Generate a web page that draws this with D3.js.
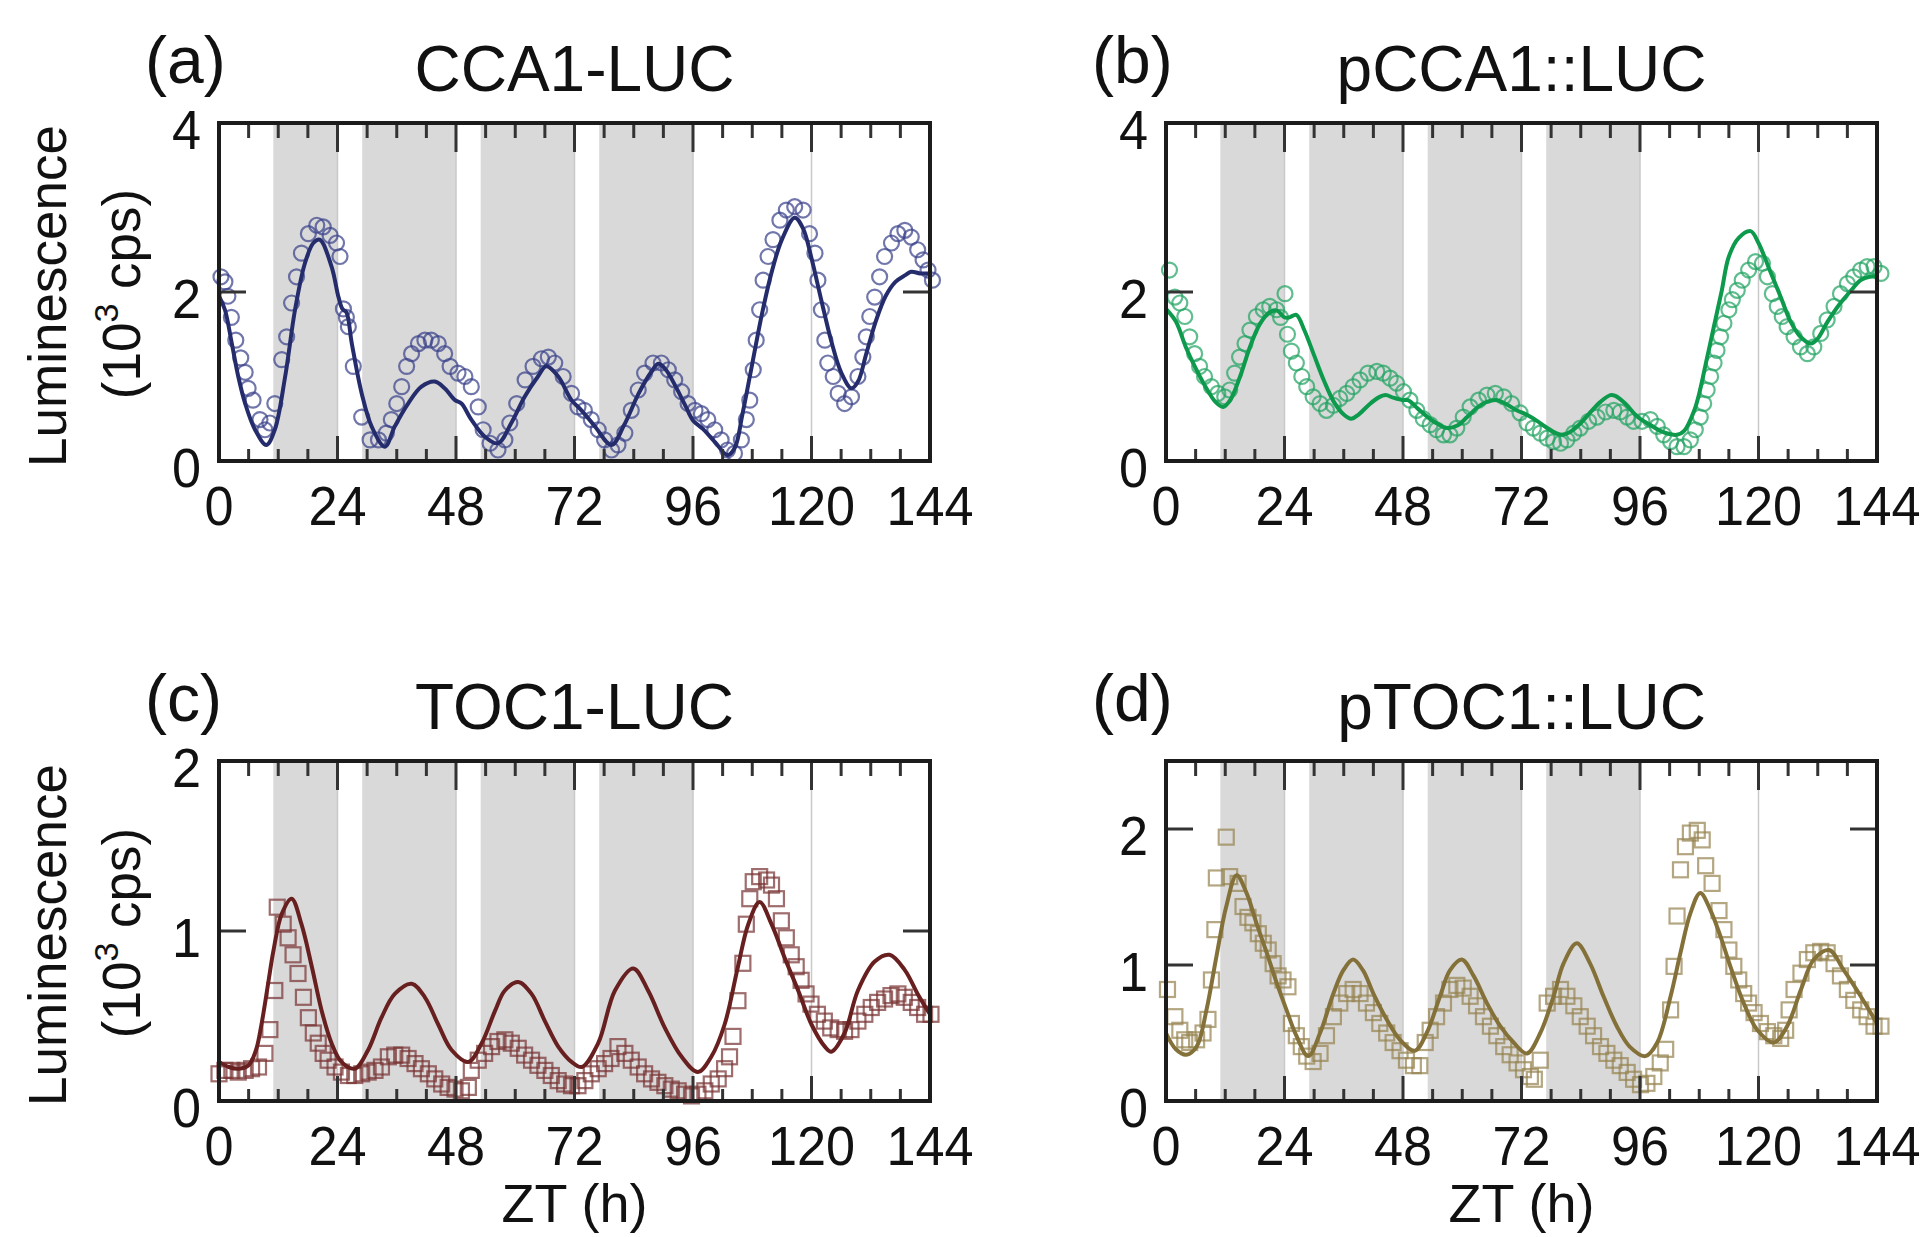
<!DOCTYPE html>
<html><head><meta charset="utf-8">
<script src="https://cdn.jsdelivr.net/npm/d3@7"></script>
<style>body{margin:0;background:#fff} svg{display:block}</style>
</head><body>
<svg id="fig" width="1924" height="1237"></svg>
<script>
// ---------------- data ----------------
const hourTicks = [0,24,48,72,96,120,144];
const nightStart = [11,29,53,77];
const nightEnd   = [24,48,72,96];
const dayLines   = [24,48,72,96,120];
const yTicksA = [0,2,4];
const yTicksB = [0,2,4];
const yTicksC = [0,1,2];
const yTicksD = [0,1,2];
const titles  = ["CCA1-LUC","pCCA1::LUC","TOC1-LUC","pTOC1::LUC"];
const letters = ["(a)","(b)","(c)","(d)"];

const aModel = [[0,1.95],[1.2,1.79],[2.6,1.39],[3.9,1.0],[5.3,0.68],[7.3,0.37],[9.6,0.19],[11.3,0.37],[13.4,1.0],[15.4,1.79],[17.4,2.34],[19.1,2.58],[20.4,2.62],[22.8,2.3],[24.2,1.94],[25,1.8],[25.8,1.76],[26.9,1.39],[28.9,0.8],[30.9,0.41],[33.6,0.17],[35.6,0.41],[38.3,0.68],[41,0.88],[43.7,0.94],[45.7,0.86],[47.8,0.72],[49.1,0.68],[51.1,0.49],[53.8,0.29],[56.5,0.21],[59.2,0.45],[61.9,0.76],[64.6,1.0],[66.3,1.12],[68.7,1.0],[71.4,0.72],[73.4,0.6],[76,0.42],[79.5,0.19],[82,0.42],[85,0.8],[87.5,1.05],[89,1.15],[90.5,1.08],[92.5,0.88],[94.5,0.65],[96,0.48],[98,0.38],[100.5,0.22],[103,0.07],[104.5,0.16],[106,0.55],[108,1.15],[110,1.75],[112,2.25],[114,2.62],[116.6,2.88],[118.3,2.75],[120,2.4],[122,1.9],[124,1.42],[126,1.05],[128.1,0.86],[129.5,0.95],[131,1.25],[133,1.65],[135,1.95],[137,2.12],[139,2.2],[140.2,2.24],[142,2.22],[144,2.22]];
const aData = [[0.4,2.18],[1.2,2.12],[1.8,1.95],[2.5,1.7],[3.4,1.43],[4.4,1.22],[5.3,1.05],[5.9,0.86],[6.9,0.72],[8.3,0.49],[9.3,0.37],[10.3,0.45],[11.3,0.68],[12.7,1.2],[13.7,1.47],[14.7,1.87],[15.7,2.18],[16.7,2.46],[18.1,2.69],[19.8,2.79],[21.1,2.77],[22.5,2.67],[23.8,2.58],[24.5,2.42],[25.2,1.8],[25.8,1.7],[26.2,1.59],[27.2,1.12],[28.9,0.52],[30.6,0.25],[32.3,0.25],[33.9,0.33],[34.9,0.49],[36,0.68],[37,0.88],[38,1.12],[39,1.27],[40.4,1.39],[41.7,1.43],[43,1.43],[44.4,1.39],[45.7,1.27],[46.8,1.12],[48.4,1.04],[49.8,1.0],[51.1,0.88],[52.5,0.64],[53.5,0.37],[54.9,0.21],[56.5,0.13],[57.9,0.25],[58.9,0.45],[60.3,0.68],[62,0.96],[63.6,1.12],[65.3,1.21],[66.7,1.23],[68,1.16],[69.7,1.0],[71.4,0.8],[72.7,0.64],[74,0.6],[75.4,0.49],[76.8,0.37],[78.1,0.25],[79.5,0.13],[80.8,0.19],[82.2,0.33],[83.5,0.6],[84.9,0.84],[86.2,1.04],[87.9,1.16],[89.6,1.16],[91,1.08],[92.3,0.96],[93.7,0.82],[95,0.68],[96.4,0.6],[97.7,0.56],[99,0.49],[100.4,0.37],[101.7,0.25],[103,0.13],[104.4,0.09],[105.8,0.25],[106.8,0.49],[107.5,0.72],[108.2,1.08],[108.8,1.43],[109.5,1.79],[110.2,2.14],[111.2,2.42],[112.2,2.62],[113.6,2.85],[114.9,2.97],[116.6,3.01],[118.3,2.97],[119.6,2.69],[120.7,2.46],[121.3,2.14],[122,1.79],[122.7,1.43],[123.3,1.16],[124.4,1.0],[125.4,0.8],[126.7,0.68],[128.1,0.76],[129.4,1.0],[130.4,1.23],[131.1,1.47],[131.8,1.71],[132.8,1.94],[133.8,2.18],[134.8,2.42],[136.2,2.58],[137.5,2.69],[138.9,2.73],[140.2,2.65],[141.5,2.5],[142.6,2.38],[143.6,2.26],[144.5,2.14]];

const bModel = [[0,1.8],[2,1.65],[4,1.35],[6,1.1],[8,0.88],[10,0.7],[11.6,0.64],[13,0.72],[15,1.0],[17,1.35],[19,1.62],[21,1.76],[22.5,1.78],[24,1.7],[25,1.7],[26.4,1.73],[28,1.55],[30,1.25],[32,0.95],[34,0.7],[36,0.55],[37.5,0.5],[39,0.55],[41,0.66],[43,0.75],[44.5,0.78],[46,0.75],[48,0.72],[49,0.72],[51,0.62],[53,0.52],[55,0.44],[57,0.39],[59,0.42],[61,0.52],[63,0.63],[65,0.7],[67,0.72],[69,0.67],[71,0.6],[73,0.55],[75,0.48],[77,0.4],[79,0.33],[80.5,0.31],[82,0.35],[84,0.45],[86,0.58],[88,0.7],[90,0.78],[91,0.77],[93,0.68],[95,0.55],[96,0.5],[98,0.43],[100,0.36],[102,0.32],[103.5,0.31],[105,0.36],[107,0.6],[108,0.8],[109.5,1.2],[111,1.6],[112.5,2.0],[114,2.42],[116,2.64],[118.4,2.72],[120,2.58],[122,2.3],[124.5,1.94],[126.5,1.65],[128.5,1.47],[130.6,1.39],[132,1.45],[134,1.65],[136.6,1.87],[138.5,2.0],[140.7,2.14],[142.5,2.18],[144,2.18]];
const bData = [[0.7,2.26],[1.8,1.94],[2.8,1.87],[3.8,1.71],[4.8,1.47],[5.8,1.27],[6.8,1.12],[7.8,1.0],[9.2,0.88],[10.5,0.8],[11.9,0.76],[12.9,0.84],[13.9,1.04],[14.9,1.23],[16,1.39],[17,1.55],[18.3,1.71],[19.7,1.79],[21,1.83],[22.4,1.79],[23.2,1.7],[24.1,1.98],[24.6,1.5],[25.4,1.3],[26.4,1.16],[27.5,1.0],[28.5,0.88],[29.8,0.76],[31.2,0.68],[32.5,0.6],[33.9,0.66],[35.2,0.74],[36.6,0.8],[37.9,0.88],[39.3,0.96],[40.9,1.04],[42.7,1.06],[44,1.04],[45.4,0.98],[46.7,0.92],[48.1,0.82],[49.4,0.72],[50.8,0.6],[52.1,0.5],[53.5,0.43],[54.8,0.37],[56.2,0.31],[57.5,0.31],[58.9,0.39],[60.2,0.52],[61.6,0.64],[63.3,0.72],[65,0.78],[66.7,0.8],[68.4,0.76],[70,0.68],[71.7,0.57],[73.1,0.45],[74.4,0.39],[75.8,0.33],[77.2,0.27],[78.5,0.23],[79.9,0.21],[81.2,0.25],[82.6,0.33],[83.9,0.39],[85.6,0.47],[87.3,0.52],[89,0.58],[90.7,0.6],[92,0.58],[93.4,0.52],[94.7,0.47],[96.4,0.47],[98.1,0.49],[99.5,0.41],[100.8,0.31],[102.2,0.23],[103.5,0.17],[104.9,0.17],[106.2,0.25],[107.2,0.37],[108.2,0.52],[108.9,0.68],[109.6,0.84],[110.3,1.0],[111,1.16],[111.6,1.31],[112.3,1.47],[113,1.63],[114,1.79],[114.7,1.91],[115.7,2.02],[116.7,2.14],[118,2.26],[119.4,2.36],[120.8,2.34],[121.8,2.18],[122.8,1.98],[123.8,1.83],[124.8,1.71],[125.8,1.59],[127.2,1.47],[128.5,1.35],[129.9,1.27],[131.2,1.35],[132.6,1.51],[133.9,1.67],[135.3,1.83],[136.6,1.98],[138,2.1],[139.3,2.18],[140.7,2.26],[142,2.3],[143.4,2.3],[144.8,2.22]];

const cModel = [[0,0.23],[2,0.2],[4,0.19],[6,0.21],[7.5,0.3],[8.6,0.45],[10,0.7],[11,0.88],[12.7,1.1],[14.7,1.19],[16.7,1.04],[18.8,0.79],[20.8,0.53],[22.8,0.34],[24.8,0.23],[27.5,0.19],[30.2,0.3],[32.9,0.49],[35.6,0.63],[39,0.69],[41.7,0.61],[44.4,0.45],[47.1,0.3],[50.5,0.23],[53.2,0.34],[55.9,0.53],[57.9,0.65],[60.6,0.7],[63.3,0.63],[66,0.47],[68.7,0.32],[71.4,0.23],[73.5,0.2],[76.8,0.34],[80.2,0.65],[83.9,0.78],[86.9,0.65],[90.3,0.43],[93.7,0.26],[97,0.17],[99.7,0.26],[102.4,0.45],[105.1,0.79],[107.2,1.04],[109.5,1.17],[111.9,1.04],[114.6,0.84],[117.3,0.65],[120,0.45],[122.7,0.32],[124,0.29],[126.7,0.4],[129.4,0.65],[132.8,0.82],[135.8,0.86],[138.9,0.77],[141.5,0.63],[144,0.51]];
const cData = [[0,0.16],[1.2,0.18],[2.6,0.18],[3.9,0.17],[5.3,0.18],[6.6,0.19],[8,0.2],[9.3,0.28],[10.3,0.42],[11.3,0.65],[11.8,1.14],[13,1.04],[14,0.96],[15,0.86],[16,0.75],[17.1,0.61],[18.1,0.49],[19.1,0.4],[20.1,0.34],[21.1,0.28],[22.1,0.24],[23.5,0.2],[24.8,0.17],[26.2,0.15],[27.5,0.15],[28.9,0.16],[30.2,0.17],[31.6,0.18],[32.9,0.2],[34.3,0.26],[35.6,0.27],[37,0.27],[38.3,0.25],[39.7,0.22],[41,0.19],[42.4,0.16],[43.7,0.13],[45.1,0.1],[46.4,0.08],[47.8,0.07],[49.1,0.06],[50.5,0.08],[51.1,0.18],[52.5,0.24],[53.8,0.28],[55.2,0.32],[56.5,0.35],[57.9,0.36],[59.2,0.34],[60.6,0.31],[61.9,0.27],[63.3,0.24],[64.6,0.21],[66,0.18],[67.3,0.15],[68.7,0.12],[70,0.1],[71.4,0.09],[72.7,0.09],[74.1,0.12],[75.4,0.16],[76.8,0.19],[78.1,0.22],[79.4,0.25],[80.8,0.32],[82.2,0.28],[83.5,0.24],[84.9,0.2],[86.2,0.16],[87.6,0.13],[88.9,0.11],[90.3,0.09],[91.6,0.07],[93,0.06],[94.3,0.04],[95.7,0.03],[97,0.04],[98.4,0.06],[99.7,0.1],[101.1,0.13],[102.4,0.19],[103.4,0.26],[104.1,0.38],[105.1,0.59],[106.1,0.81],[106.8,1.04],[107.5,1.19],[108.2,1.29],[109.5,1.32],[110.9,1.3],[111.9,1.27],[112.9,1.19],[113.9,1.06],[114.9,0.96],[115.9,0.86],[116.9,0.79],[117.9,0.71],[118.9,0.63],[119.9,0.57],[121.2,0.51],[122.6,0.47],[123.9,0.43],[125.4,0.42],[126.7,0.41],[128,0.42],[129.4,0.47],[130.8,0.51],[132.1,0.55],[133.4,0.58],[134.8,0.6],[136.1,0.62],[137.5,0.63],[138.8,0.61],[140.2,0.58],[141.5,0.55],[142.9,0.51],[144.2,0.51]];

const dModel = [[0,0.5],[2,0.38],[4.1,0.34],[6.2,0.4],[8.2,0.67],[10.2,1.06],[12.2,1.43],[14.3,1.66],[16.3,1.53],[18.3,1.31],[20.4,1.09],[22.4,0.87],[24.4,0.67],[26.4,0.48],[28.8,0.33],[31.2,0.5],[33.9,0.79],[35.9,0.96],[37.9,1.04],[39.9,0.96],[42,0.79],[44.7,0.6],[47.4,0.45],[50.4,0.37],[52.8,0.5],[55.5,0.77],[57.5,0.96],[59.9,1.04],[62.3,0.92],[65,0.72],[67.7,0.55],[70.4,0.43],[73.1,0.35],[75.8,0.5],[78.5,0.77],[80.5,1.01],[83.2,1.16],[85.9,1.01],[88.6,0.77],[91.3,0.55],[93.9,0.4],[97.1,0.33],[99.5,0.43],[102.2,0.77],[104.2,1.09],[106.2,1.38],[108.2,1.53],[110.3,1.4],[112.3,1.21],[114.3,0.99],[117,0.72],[119.8,0.52],[123.1,0.43],[125.8,0.55],[128.6,0.82],[131.2,1.04],[134.3,1.11],[137.3,0.96],[140.7,0.77],[144,0.57]];
const dData = [[0.3,0.82],[1.8,0.62],[2.8,0.52],[3.8,0.45],[4.8,0.43],[6.2,0.45],[7.5,0.5],[8.5,0.6],[9.2,0.89],[9.9,1.26],[10.2,1.64],[12.2,1.94],[12.9,1.65],[14.6,1.6],[15.6,1.43],[16.6,1.35],[17.6,1.31],[18.7,1.23],[19.7,1.16],[20.7,1.11],[21.7,1.01],[22.7,0.92],[23.7,0.89],[24.7,0.84],[25.4,0.57],[26.4,0.48],[27.4,0.4],[28.5,0.33],[29.8,0.29],[31.2,0.35],[32.5,0.48],[33.9,0.62],[35.2,0.72],[36.6,0.79],[37.9,0.82],[39.3,0.79],[40.6,0.72],[42,0.65],[43.3,0.57],[44.7,0.5],[46,0.43],[47.4,0.37],[48.7,0.3],[50.1,0.26],[51.4,0.26],[52.5,0.43],[53.5,0.52],[54.8,0.62],[56.2,0.72],[57.5,0.82],[58.9,0.85],[60.2,0.83],[61.6,0.77],[62.9,0.7],[64.3,0.62],[65.7,0.55],[67,0.48],[68.4,0.4],[69.7,0.34],[71.1,0.28],[72.4,0.23],[73.8,0.18],[74.6,0.16],[75.8,0.3],[77.2,0.72],[78.5,0.77],[79.9,0.82],[81.2,0.77],[82.6,0.7],[83.9,0.62],[85.3,0.55],[86.6,0.48],[88,0.4],[89.3,0.35],[90.7,0.3],[92,0.26],[93.4,0.21],[94.7,0.16],[96.1,0.12],[97.4,0.13],[98.8,0.18],[100.1,0.28],[101.2,0.38],[102.2,0.67],[102.9,0.99],[103.5,1.36],[104.2,1.7],[105.2,1.87],[106.2,1.97],[107.6,1.99],[108.6,1.92],[109.3,1.73],[110.6,1.6],[112,1.4],[113,1.26],[114,1.11],[115,0.99],[116,0.89],[117,0.79],[118,0.72],[119.1,0.65],[120.4,0.57],[121.8,0.51],[123.1,0.48],[124.5,0.46],[125.5,0.52],[126.2,0.67],[127.2,0.82],[128.6,0.94],[129.9,1.04],[131.2,1.09],[132.6,1.1],[133.9,1.09],[135.3,1.01],[136.6,0.92],[138,0.82],[139.3,0.74],[140.7,0.67],[142,0.62],[143.4,0.55],[144.8,0.55]];

// ---------------- layout / styles ----------------
const FONT = "'Liberation Sans', Arial, Helvetica, sans-serif";
const W = 711;
const panels = [
  {left:219,  top:123, h:338, ymax:4,   yt:yTicksA, line:'#252c6c', mk:'#3a428a', model:aModel, data:aData, shape:'circle', title:titles[0], letter:letters[0], ylab:true,  xlab:false},
  {left:1166, top:123, h:338, ymax:4,   yt:yTicksB, line:'#0e9a4c', mk:'#22a463', model:bModel, data:bData, shape:'circle', title:titles[1], letter:letters[1], ylab:false, xlab:false},
  {left:219,  top:761, h:340, ymax:2,   yt:yTicksC, line:'#67201f', mk:'#7a3434', model:cModel, data:cData, shape:'square', title:titles[2], letter:letters[2], ylab:true,  xlab:true},
  {left:1166, top:761, h:340, ymax:2.5, yt:yTicksD, line:'#84713a', mk:'#958350', model:dModel, data:dData, shape:'square', title:titles[3], letter:letters[3], ylab:false, xlab:true}
];

const svg = d3.select('#fig');
svg.append('rect').attr('width',1924).attr('height',1237).attr('fill','#fff');

function txt(parent, s, x, y, size, anchor, sx, rot) {
  return parent.append('text')
    .attr('transform', `translate(${x},${y})` + (rot ? ` rotate(${rot})` : '') + ` scale(${sx||1},1)`)
    .attr('font-family', FONT).attr('font-size', size).attr('fill', '#111')
    .attr('text-anchor', anchor || 'middle').text(s);
}

panels.forEach(p => {
  const g = svg.append('g').attr('transform', `translate(${p.left},${p.top})`);
  const x = d3.scaleLinear().domain([0,144]).range([0,W]);
  const y = d3.scaleLinear().domain([0,p.ymax]).range([p.h,0]);

  // night shading
  g.selectAll('rect.night').data(d3.zip(nightStart, nightEnd)).join('rect')
    .attr('x', d => x(d[0])).attr('width', d => x(d[1]) - x(d[0]))
    .attr('y', 0).attr('height', p.h).attr('fill', '#d9d9d9');
  // day boundary lines
  g.selectAll('line.day').data(dayLines).join('line')
    .attr('x1', d => x(d)).attr('x2', d => x(d)).attr('y1', 0).attr('y2', p.h)
    .attr('stroke', '#c9c9c9').attr('stroke-width', 1.5);

  // data markers
  const mg = g.append('g').attr('fill','none').attr('stroke', p.mk)
    .attr('stroke-width', 2.2).attr('stroke-opacity', 0.72);
  if (p.shape === 'circle') {
    mg.selectAll('circle').data(p.data).join('circle')
      .attr('cx', d => x(d[0])).attr('cy', d => y(d[1])).attr('r', 7.5);
  } else {
    const s = 15;
    mg.selectAll('rect').data(p.data).join('rect')
      .attr('x', d => x(d[0]) - s/2).attr('y', d => y(d[1]) - s/2)
      .attr('width', s).attr('height', s);
  }

  // model curve
  const line = d3.line().x(d => x(d[0])).y(d => y(d[1])).curve(d3.curveCatmullRom.alpha(0.5));
  g.append('path').datum(p.model).attr('d', line)
    .attr('fill','none').attr('stroke', p.line).attr('stroke-width', 4)
    .attr('stroke-linejoin','round');

  // ticks
  const tg = g.append('g').attr('stroke', '#333').attr('stroke-width', 3);
  d3.range(0, 145, 6).forEach(t => {
    const major = (t % 24 === 0);
    tg.append('line').attr('x1', x(t)).attr('x2', x(t)).attr('y1', 0).attr('y2', major ? 29 : 15);
    tg.append('line').attr('x1', x(t)).attr('x2', x(t)).attr('y1', p.h).attr('y2', p.h - (major ? 25 : 12));
  });
  p.yt.forEach(v => {
    tg.append('line').attr('x1', 0).attr('x2', 27).attr('y1', y(v)).attr('y2', y(v));
    tg.append('line').attr('x1', W).attr('x2', W - 27).attr('y1', y(v)).attr('y2', y(v));
  });

  // frame
  g.append('rect').attr('x',0).attr('y',0).attr('width',W).attr('height',p.h)
    .attr('fill','none').attr('stroke','#1c1c1c').attr('stroke-width',4);

  // tick labels
  hourTicks.forEach(t => txt(g, String(t), x(t), p.h + 64, 55, 'middle', 0.95));
  p.yt.forEach(v => txt(g, String(v), -18, y(v) + 26, 55, 'end', 0.95));

  // title & letter
  txt(g, p.title, W/2, -32, 64, 'middle', 1);
  txt(g, p.letter, -74, -40, 66, 'start', 1);

  if (p.ylab) {
    txt(g, 'Luminescence', -153, p.h/2 + 4, 53, 'middle', 1, -90);
    const t2 = g.append('text')
      .attr('transform', `translate(-79,${p.h/2 + 2}) rotate(-90)`)
      .attr('font-family', FONT).attr('font-size', 53).attr('fill','#111')
      .attr('text-anchor','middle');
    t2.append('tspan').text('(10');
    t2.append('tspan').attr('font-size', 34).attr('dy', -22).text('3');
    t2.append('tspan').attr('dy', 22).text(' cps)');
  }
  if (p.xlab) {
    txt(g, 'ZT (h)', W/2, p.h + 121, 54, 'middle', 1);
  }
});
</script>
</body></html>
